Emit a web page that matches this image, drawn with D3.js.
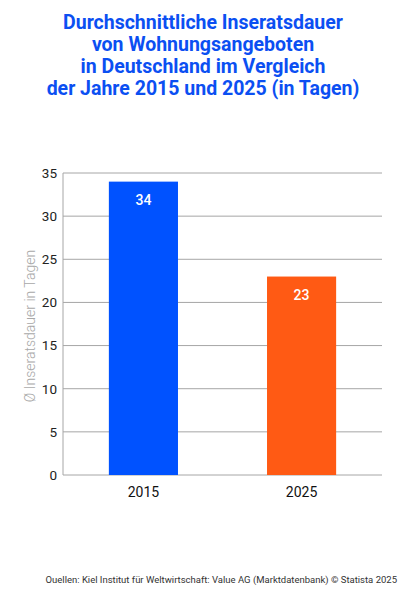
<!DOCTYPE html>
<html>
<head>
<meta charset="utf-8">
<script src="https://cdn.jsdelivr.net/npm/d3@7"></script>
<style>
  body { margin: 0; background: #fff; }
  text { font-family: Roboto, "Noto Sans", sans-serif; }
</style>
</head>
<body>
<div id="chart"></div>
<script>
// data
var years = ["2015", "2025"];
var days = [34, 23];
var barColors = ["#0052ff", "#ff5a14"];
var yTicks = [0, 5, 10, 15, 20, 25, 30, 35];
var titleLines = [
    "Durchschnittliche Inseratsdauer",
    "von Wohnungsangeboten",
    "in Deutschland im Vergleich",
    "der Jahre 2015 und 2025 (in Tagen)"
];

var w = 407;
var h = 594;
var plotLeft = 63, plotRight = 382, plotTop = 173, plotBottom = 475;

var svg = d3.select("#chart")
            .append("svg")
            .attr("width", w)
            .attr("height", h);

// title
svg.append("g")
    .selectAll("text")
    .data(titleLines)
    .enter()
    .append("text")
    .attr("x", 203)
    .attr("y", function(d, i) { return 29 + i * 22; })
    .attr("text-anchor", "middle")
    .attr("font-size", 19.5)
    .attr("font-weight", 700)
    .attr("fill", "#0b4ff2")
    .text(function(d) { return d; });

var xscale = d3.scaleBand()
                .domain(years)
                .range([plotLeft, plotRight])
                .paddingInner(0.563)
                .paddingOuter(0.29);

var yscale = d3.scaleLinear()
                .domain([0, 35])
                .range([plotBottom, plotTop]);

// gridlines
svg.append("g")
    .selectAll("line")
    .data(yTicks)
    .enter()
    .append("line")
    .attr("x1", plotLeft)
    .attr("x2", plotRight)
    .attr("y1", function(d) { return yscale(d); })
    .attr("y2", function(d) { return yscale(d); })
    .attr("stroke", "#a6a6a6")
    .attr("stroke-width", 1);

// left axis line
svg.append("line")
    .attr("x1", plotLeft).attr("x2", plotLeft)
    .attr("y1", plotTop).attr("y2", plotBottom)
    .attr("stroke", "#a6a6a6");

// bars
svg.append("g")
    .selectAll("rect")
    .data(days)
    .enter()
    .append("rect")
    .attr("x", function(d, i) { return xscale(years[i]); })
    .attr("y", function(d) { return yscale(d); })
    .attr("width", xscale.bandwidth())
    .attr("height", function(d) { return plotBottom - yscale(d); })
    .attr("fill", function(d, i) { return barColors[i]; });

// value labels
svg.append("g")
    .selectAll("text")
    .data(days)
    .enter()
    .append("text")
    .attr("x", function(d, i) { return xscale(years[i]) + xscale.bandwidth() / 2; })
    .attr("y", function(d) { return yscale(d) + 23; })
    .attr("text-anchor", "middle")
    .attr("font-size", 14)
    .attr("font-weight", 500)
    .attr("fill", "#fff")
    .text(function(d) { return d; });

// y axis
var yaxis = d3.axisLeft(yscale).tickValues(yTicks).tickSize(0).tickPadding(6);
svg.append("g")
    .attr("class", "y axis")
    .attr("transform", "translate(" + plotLeft + ",0)")
    .call(yaxis)
    .call(function(g) {
        g.select(".domain").remove();
        g.selectAll("text")
            .attr("font-size", 13.5)
            .attr("fill", "#222")
            .style("font-family", "Roboto, sans-serif");
    });

// x axis
var xaxis = d3.axisBottom(xscale).tickSize(0).tickPadding(12);
svg.append("g")
    .attr("class", "x axis")
    .attr("transform", "translate(0," + plotBottom + ")")
    .call(xaxis)
    .call(function(g) {
        g.select(".domain").remove();
        g.selectAll("text")
            .attr("font-size", 14)
            .attr("fill", "#111")
            .style("font-family", "Roboto, sans-serif");
    });

// y label
svg.append("text")
    .attr("transform", "translate(35," + ((plotTop + plotBottom) / 2 + 2) + ") rotate(-90)")
    .attr("text-anchor", "middle")
    .attr("font-size", 14)
    .attr("font-weight", 300)
    .attr("fill", "#a8a8a8")
    .text("Ø Inseratsdauer in Tagen");

// source
svg.append("text")
    .attr("x", 397)
    .attr("y", 583)
    .attr("text-anchor", "end")
    .attr("font-size", 9.5)
    .attr("fill", "#333")
    .text("Ouellen: Kiel Institut für Weltwirtschaft: Value AG (Marktdatenbank) © Statista 2025");
</script>
</body>
</html>
